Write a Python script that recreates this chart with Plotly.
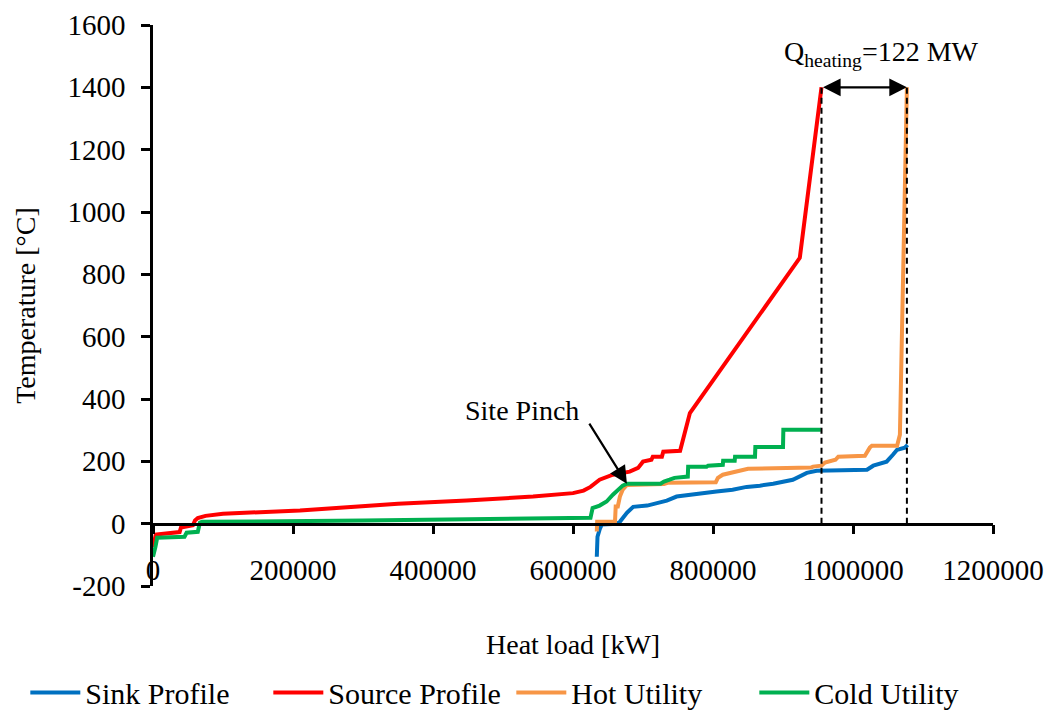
import plotly.graph_objects as go

# Composite curves: heat load [kW] vs temperature [°C]
sink_x = [634000, 635000, 638000, 641000, 663000, 667000, 677000, 686000, 706000, 720000,
          734000, 748000, 767000, 785000, 805000, 828000, 848000, 867000, 886000, 914000,
          934000, 948000, 1020000, 1029000, 1048000, 1057000, 1063000, 1074000, 1078000]
sink_y = [-106, -42, -19, -3, 0, 6, 35, 54, 58, 67,
          74, 87, 93, 99, 103, 109, 118, 122, 128, 141,
          163, 170, 173, 186, 199, 221, 237, 244, 253]

source_x = [0, 2000, 4000, 38000, 40000, 57000, 60000, 64000, 75000, 100000,
            181000, 210000, 350000, 448000, 543000, 600000, 615000, 625000, 638000, 657000,
            681000, 693000, 700000, 712000, 714000, 727000, 729000, 753000, 767000, 924000,
            955000]
source_y = [-75, -50, -35, -27, -12, -5, 10, 18, 25, 32,
            38, 42, 64, 74, 87, 98, 106, 118, 141, 157,
            167, 179, 199, 205, 215, 215, 231, 234, 355, 853,
            1400]

hot_x = [634000, 634500, 660000, 661000, 664000, 667000, 671000, 674000, 677000, 730000,
         735000, 804000, 807000, 814000, 834000, 838000, 850000, 940000, 943000, 955000,
         960000, 975000, 979000, 1017000, 1020000, 1024000, 1027000, 1063000, 1067000, 1077000]
hot_y = [-25, 6, 6, 55, 55, 87, 109, 118, 124, 127,
         131, 133, 147, 157, 167, 170, 176, 180, 183, 186,
         196, 205, 215, 218, 231, 244, 250, 250, 285, 1400]

cold_x = [0, 1500, 3500, 6000, 45000, 48000, 64000, 67000, 70000, 300000,
          610000, 625000, 628000, 638000, 648000, 657000, 671000, 677000, 725000, 730000,
          738000, 745000, 764000, 764500, 791000, 793000, 814000, 814500, 831000, 831500,
          860000, 860500, 900000, 900500, 954000]
cold_y = [-106, -83, -74, -45, -42, -29, -26, 3, 6, 10,
          16, 19, 50, 58, 71, 93, 122, 128, 128, 135,
          141, 147, 151, 183, 183, 186, 189, 202, 202, 215,
          215, 246, 246, 301, 301]

y_ticks = [-200, 0, 200, 400, 600, 800, 1000, 1200, 1400, 1600]
y_tick_text = ["-200", "0", "200", "400", "600", "800", "1000", "1200", "1400", "1600"]
x_ticks = [0, 200000, 400000, 600000, 800000, 1000000, 1200000]
x_tick_text = ["0", "200000", "400000", "600000", "800000", "1000000", "1200000"]

FONT = "Liberation Serif, Times New Roman, serif"
LW = 4
TICK_SIZE = 29
TEXT_SIZE = 28

fig = go.Figure()
fig.add_trace(go.Scatter(x=sink_x, y=sink_y, mode="lines", name="Sink Profile",
                         line=dict(color="#0070C0", width=LW)))
fig.add_trace(go.Scatter(x=source_x, y=source_y, mode="lines", name="Source Profile",
                         line=dict(color="#FF0000", width=LW)))
fig.add_trace(go.Scatter(x=hot_x, y=hot_y, mode="lines", name="Hot Utility",
                         line=dict(color="#F79646", width=LW)))
fig.add_trace(go.Scatter(x=cold_x, y=cold_y, mode="lines", name="Cold Utility",
                         line=dict(color="#00B050", width=LW)))

# heating demand: gap between source end and hot utility end at the top temperature
q_left, q_right = source_x[-1], hot_x[-1]
q_top = source_y[-1]
for xv in (q_left, q_right):
    fig.add_shape(type="line", x0=xv, x1=xv, y0=0, y1=q_top, xref="x", yref="y",
                  line=dict(color="black", width=2, dash="6px,4px"), layer="above")

fig.add_annotation(x=q_right, y=q_top, ax=q_left, ay=q_top, xref="x", yref="y",
                   axref="x", ayref="y", text="", showarrow=True,
                   arrowhead=2, arrowsize=1.6, arrowwidth=2.2, arrowside="end+start",
                   arrowcolor="black")
fig.add_annotation(x=1040000, y=1510, xref="x", yref="y",
                   text="Q<sub>heating</sub>=122 MW", showarrow=False,
                   font=dict(family=FONT, size=TEXT_SIZE, color="black"))

# site pinch marker
pinch_x, pinch_y = cold_x[17], cold_y[17]
fig.add_annotation(x=pinch_x, y=pinch_y, ax=622000, ay=326, xref="x", yref="y",
                   axref="x", ayref="y", text="", showarrow=True,
                   arrowhead=2, arrowsize=1.6, arrowwidth=2.2, arrowcolor="black")
fig.add_annotation(x=527000, y=362, xref="x", yref="y", text="Site Pinch",
                   showarrow=False, font=dict(family=FONT, size=TEXT_SIZE, color="black"))

# axis titles
fig.add_annotation(x=-0.152, y=0.5, xref="paper", yref="paper", text="Temperature [°C]",
                   textangle=-90, showarrow=False, xanchor="center", yanchor="middle",
                   font=dict(family=FONT, size=TEXT_SIZE, color="black"))
fig.add_annotation(x=0.5, y=-0.105, xref="paper", yref="paper", text="Heat load [kW]",
                   showarrow=False, xanchor="center", yanchor="middle",
                   font=dict(family=FONT, size=TEXT_SIZE, color="black"))

fig.update_layout(
    width=1054, height=712,
    margin=dict(l=153, r=61, t=25, b=126, autoexpand=False),
    paper_bgcolor="white", plot_bgcolor="white",
    font=dict(family=FONT, size=TEXT_SIZE, color="black"),
    showlegend=True,
    legend=dict(orientation="h", x=-0.152, xanchor="left", y=-0.19, yanchor="middle",
                font=dict(family=FONT, size=30), itemwidth=50, tracegroupgap=0,
                entrywidth=178),
    xaxis=dict(range=[0, 1200000], tickvals=x_ticks, ticktext=x_tick_text,
               showgrid=False, zeroline=False, showline=False, ticks="",
               anchor="free", position=0.065, tickfont=dict(family=FONT, size=TICK_SIZE)),
    xaxis2=dict(matches="x", overlaying="x", range=[0, 1200000], tickvals=x_ticks,
                showticklabels=False, showgrid=False, zeroline=False,
                showline=True, linecolor="black", linewidth=2.5,
                ticks="outside", ticklen=9, tickwidth=2.5, tickcolor="black",
                anchor="free", position=200 / 1800),
    yaxis=dict(range=[-200, 1600], tickvals=y_ticks, ticktext=y_tick_text,
               showgrid=False, zeroline=False, showline=True, linecolor="black",
               linewidth=2.5, ticks="outside", ticklen=9, tickwidth=2.5,
               tickcolor="black", ticklabelstandoff=10,
               tickfont=dict(family=FONT, size=TICK_SIZE)),
)

# invisible trace to register the tick-only axis at zero
fig.add_trace(go.Scatter(x=[0], y=[0], xaxis="x2", mode="markers", showlegend=False,
                         hoverinfo="skip", marker=dict(opacity=0)))

fig.write_html("out.html")
